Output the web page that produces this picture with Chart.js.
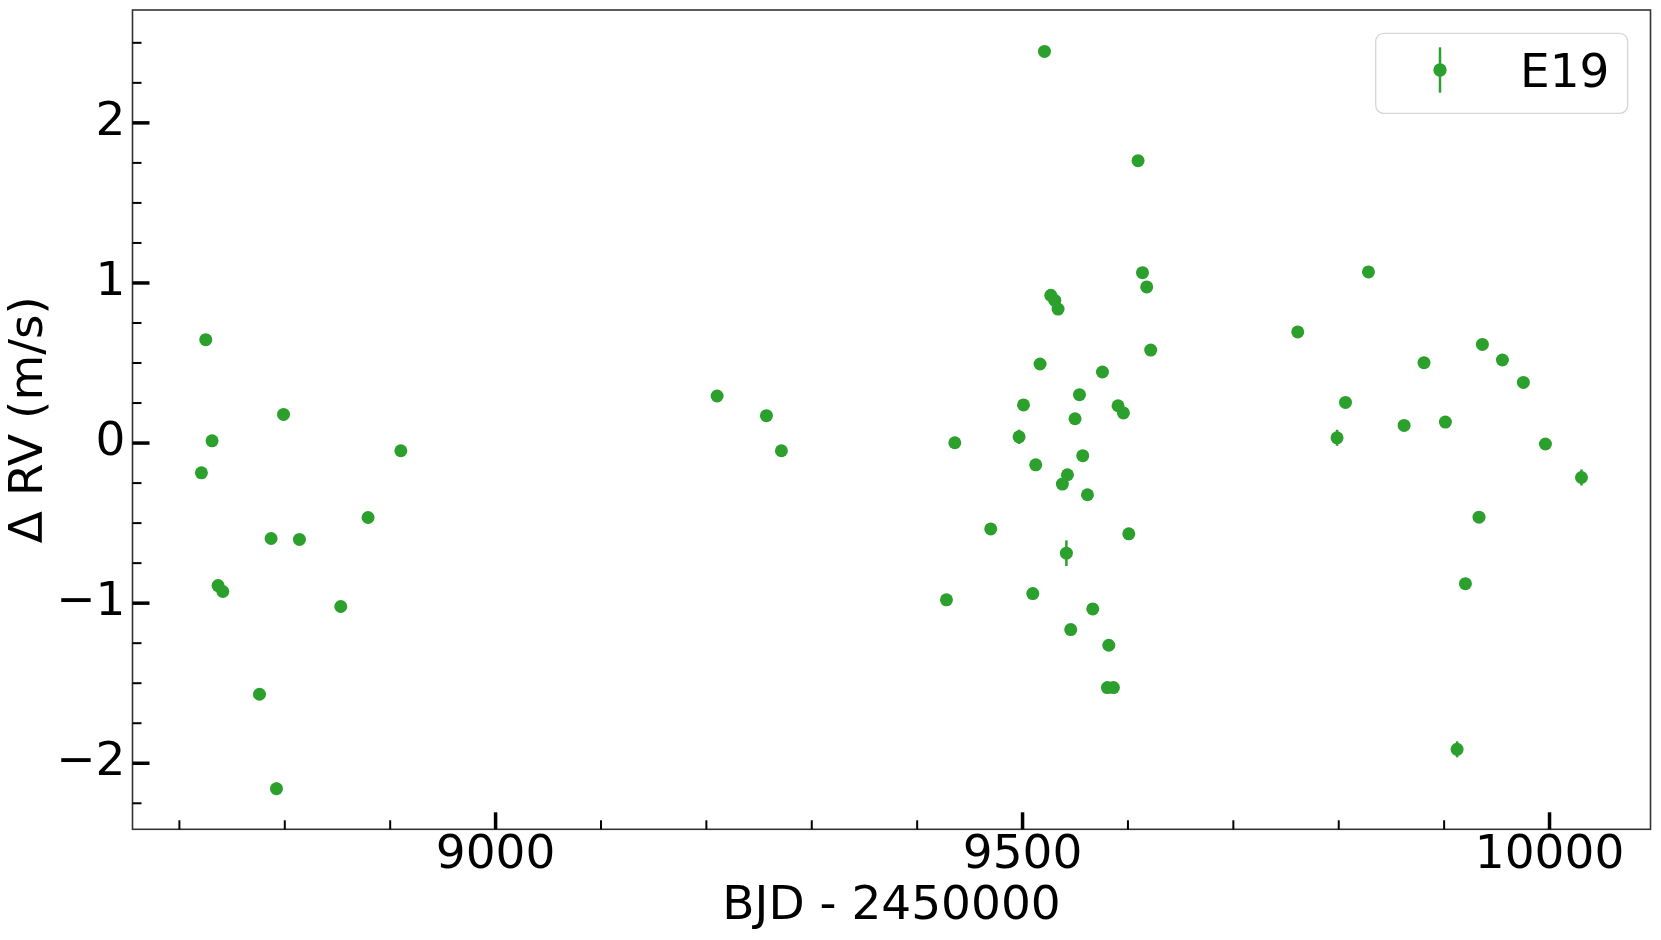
<!DOCTYPE html>
<html>
<head>
<meta charset="utf-8">
<title>E19 RV</title>
<script src="https://cdn.jsdelivr.net/npm/chart.js@4.4.1/dist/chart.umd.min.js"></script>
<style>
  html, body { margin: 0; padding: 0; background: #fff; }
  #wrap { width: 1661px; height: 940px; }
</style>
</head>
<body>
<div id="wrap"><canvas id="rv"></canvas></div>
<script>
// BJD - 2450000 of each E19 epoch
const bjd = [
  8720.9, 8725.0, 8731.0, 8736.7, 8741.2, 8776.0, 8787.0, 8792.1, 8798.8, 8813.9, 8853.1, 8879.0, 8910.1,
  9210.2, 9257.0, 9271.2,
  9427.8, 9435.7, 9469.8, 9496.7, 9500.9, 9509.7, 9512.5, 9516.6, 9520.8, 9526.8, 9530.6, 9533.7,
  9537.8, 9541.6, 9542.6, 9545.7, 9549.8, 9554.0, 9557.1, 9561.6, 9566.6, 9575.8, 9580.5, 9581.8,
  9586.2, 9590.6, 9595.7, 9600.8, 9609.6, 9613.8, 9617.8, 9621.6,
  9761.1, 9798.4, 9806.4, 9828.2, 9862.0, 9880.9, 9901.2, 9912.3, 9920.2, 9933.1, 9936.3, 9955.3,
  9975.2, 9996.1, 10030.3
];
// delta RV (m/s)
const rv = [
  -0.186, 0.646, 0.014, -0.890, -0.927, -1.569, -0.596, -2.159, 0.179, -0.602, -1.021, -0.465, -0.048,
  0.294, 0.171, -0.048,
  -0.979, 0.002, -0.536, 0.039, 0.238, -0.940, -0.136, 0.494, 2.446, 0.923, 0.891, 0.837,
  -0.256, -0.688, -0.198, -1.165, 0.152, 0.302, -0.079, -0.323, -1.036, 0.444, -1.527, -1.263,
  -1.527, 0.233, 0.188, -0.567, 1.764, 1.064, 0.975, 0.581,
  0.694, 0.033, 0.254, 1.069, 0.110, 0.502, 0.131, -1.913, -0.878, -0.463, 0.616, 0.519,
  0.379, -0.006, -0.215
];
// 1-sigma errors (m/s); most hide under the marker
const rvErr = [
  0.03, 0.03, 0.03, 0.03, 0.03, 0.03, 0.03, 0.04, 0.03, 0.03, 0.03, 0.03, 0.03,
  0.03, 0.03, 0.03,
  0.03, 0.03, 0.03, 0.045, 0.03, 0.03, 0.03, 0.03, 0.03, 0.03, 0.03, 0.03,
  0.03, 0.08, 0.03, 0.03, 0.03, 0.03, 0.03, 0.03, 0.03, 0.03, 0.03, 0.03,
  0.03, 0.03, 0.03, 0.03, 0.03, 0.03, 0.03, 0.03,
  0.03, 0.05, 0.03, 0.03, 0.03, 0.03, 0.03, 0.05, 0.03, 0.03, 0.03, 0.03,
  0.03, 0.03, 0.05
];

const xMajor = [9000, 9500, 10000];
const xMinor = [8700, 8800, 8900, 9100, 9200, 9300, 9400, 9600, 9700, 9800, 9900];
const yMajor = [-2, -1, 0, 1, 2];
const yMinor = [-2.25, -1.75, -1.5, -1.25, -0.75, -0.5, -0.25, 0.25, 0.5, 0.75, 1.25, 1.5, 1.75, 2.25, 2.5];

const GREEN = '#2ca02c';
const FONT = 'DejaVu Sans';
Chart.defaults.font.family = FONT;
Chart.defaults.color = '#000';

function fmtY(v) {
  return v < 0 ? '\u2212' + Math.abs(v) : String(v);
}

/* error bars, through the scales */
const errorBars = {
  id: 'errorBars',
  beforeDatasetsDraw(chart) {
    const { ctx, scales: { x, y } } = chart;
    ctx.save();
    ctx.strokeStyle = GREEN;
    ctx.lineWidth = 2.5;
    bjd.forEach((t, i) => {
      const px = x.getPixelForValue(t);
      ctx.beginPath();
      ctx.moveTo(px, y.getPixelForValue(rv[i] - rvErr[i]));
      ctx.lineTo(px, y.getPixelForValue(rv[i] + rvErr[i]));
      ctx.stroke();
    });
    ctx.restore();
  }
};

/* frame, inward ticks, legend box */
const decor = {
  id: 'decor',
  afterDraw(chart) {
    const { ctx, chartArea: a, scales: { x, y } } = chart;
    ctx.save();

    ctx.strokeStyle = '#333';
    ctx.lineWidth = 1.6;
    ctx.strokeRect(a.left, a.top, a.right - a.left, a.bottom - a.top);

    ctx.strokeStyle = '#000';
    const tick = (vals, len, w, horiz) => {
      ctx.lineWidth = w;
      vals.forEach(v => {
        ctx.beginPath();
        if (horiz) {
          const p = x.getPixelForValue(v);
          ctx.moveTo(p, a.bottom);
          ctx.lineTo(p, a.bottom - len);
        } else {
          const p = y.getPixelForValue(v);
          ctx.moveTo(a.left, p);
          ctx.lineTo(a.left + len, p);
        }
        ctx.stroke();
      });
    };
    tick(xMajor, 17, 3.5, true);
    tick(xMinor, 9, 2, true);
    tick(yMajor, 17, 3.5, false);
    tick(yMinor, 9, 2, false);

    // legend
    const lx = 1375.7, ly = 33.3, lw = 252, lh = 80;
    ctx.beginPath();
    ctx.roundRect(lx, ly, lw, lh, 8);
    ctx.fillStyle = 'rgba(255,255,255,0.8)';
    ctx.fill();
    ctx.strokeStyle = '#d6d6d6';
    ctx.lineWidth = 1.3;
    ctx.stroke();

    ctx.strokeStyle = GREEN;
    ctx.lineWidth = 2.5;
    ctx.beginPath();
    ctx.moveTo(1440, 47.3);
    ctx.lineTo(1440, 92.7);
    ctx.stroke();
    ctx.fillStyle = GREEN;
    ctx.beginPath();
    ctx.arc(1440, 70, 6.7, 0, Math.PI * 2);
    ctx.fill();

    ctx.fillStyle = '#000';
    ctx.font = '47px "' + FONT + '"';
    ctx.textAlign = 'left';
    ctx.textBaseline = 'alphabetic';
    ctx.fillText('E19', 1520, 86.7);

    ctx.restore();
  }
};

new Chart(document.getElementById('rv'), {
  type: 'scatter',
  data: {
    datasets: [{
      label: 'E19',
      data: bjd.map((t, i) => ({ x: t, y: rv[i] })),
      backgroundColor: GREEN,
      borderWidth: 0,
      pointRadius: 6.5,
      pointHoverRadius: 6.5
    }]
  },
  options: {
    responsive: true,
    maintainAspectRatio: false,
    animation: false,
    layout: { padding: { top: 10, right: 10.5, left: 0, bottom: 0 } },
    plugins: {
      legend: { display: false },
      tooltip: { enabled: false }
    },
    scales: {
      x: {
        type: 'linear',
        min: 8655.5,
        max: 10095.8,
        afterFit: (s) => {
          s.height = 110.7;
          s.paddingLeft = 0;
          s.paddingRight = 0;
        },
        afterBuildTicks: (s) => { s.ticks = xMajor.map(v => ({ value: v })); },
        grid: { display: false, drawTicks: false },
        border: { display: false },
        ticks: {
          font: { size: 47, lineHeight: 1 },
          padding: 3,
          maxRotation: 0,
          autoSkip: false,
          callback: (v) => String(v)
        },
        title: {
          display: true,
          text: 'BJD - 2450000',
          font: { size: 47, lineHeight: 1.2 },
          padding: { top: 0, bottom: 5 }
        }
      },
      y: {
        type: 'linear',
        min: -2.4125,
        max: 2.705,
        afterFit: (s) => {
          s.width = 132.5;
          s.paddingTop = 0;
          s.paddingBottom = 0;
        },
        afterBuildTicks: (s) => { s.ticks = yMajor.map(v => ({ value: v })); },
        grid: { display: false, drawTicks: false },
        border: { display: false },
        ticks: {
          font: { size: 47, lineHeight: 1 },
          padding: 7,
          autoSkip: false,
          callback: (v) => fmtY(v)
        },
        title: {
          display: true,
          text: '\u0394 RV (m/s)',
          font: { size: 47, lineHeight: 1.15 },
          padding: { top: 3, bottom: 0 }
        }
      }
    }
  },
  plugins: [errorBars, decor]
});
</script>
</body>
</html>
